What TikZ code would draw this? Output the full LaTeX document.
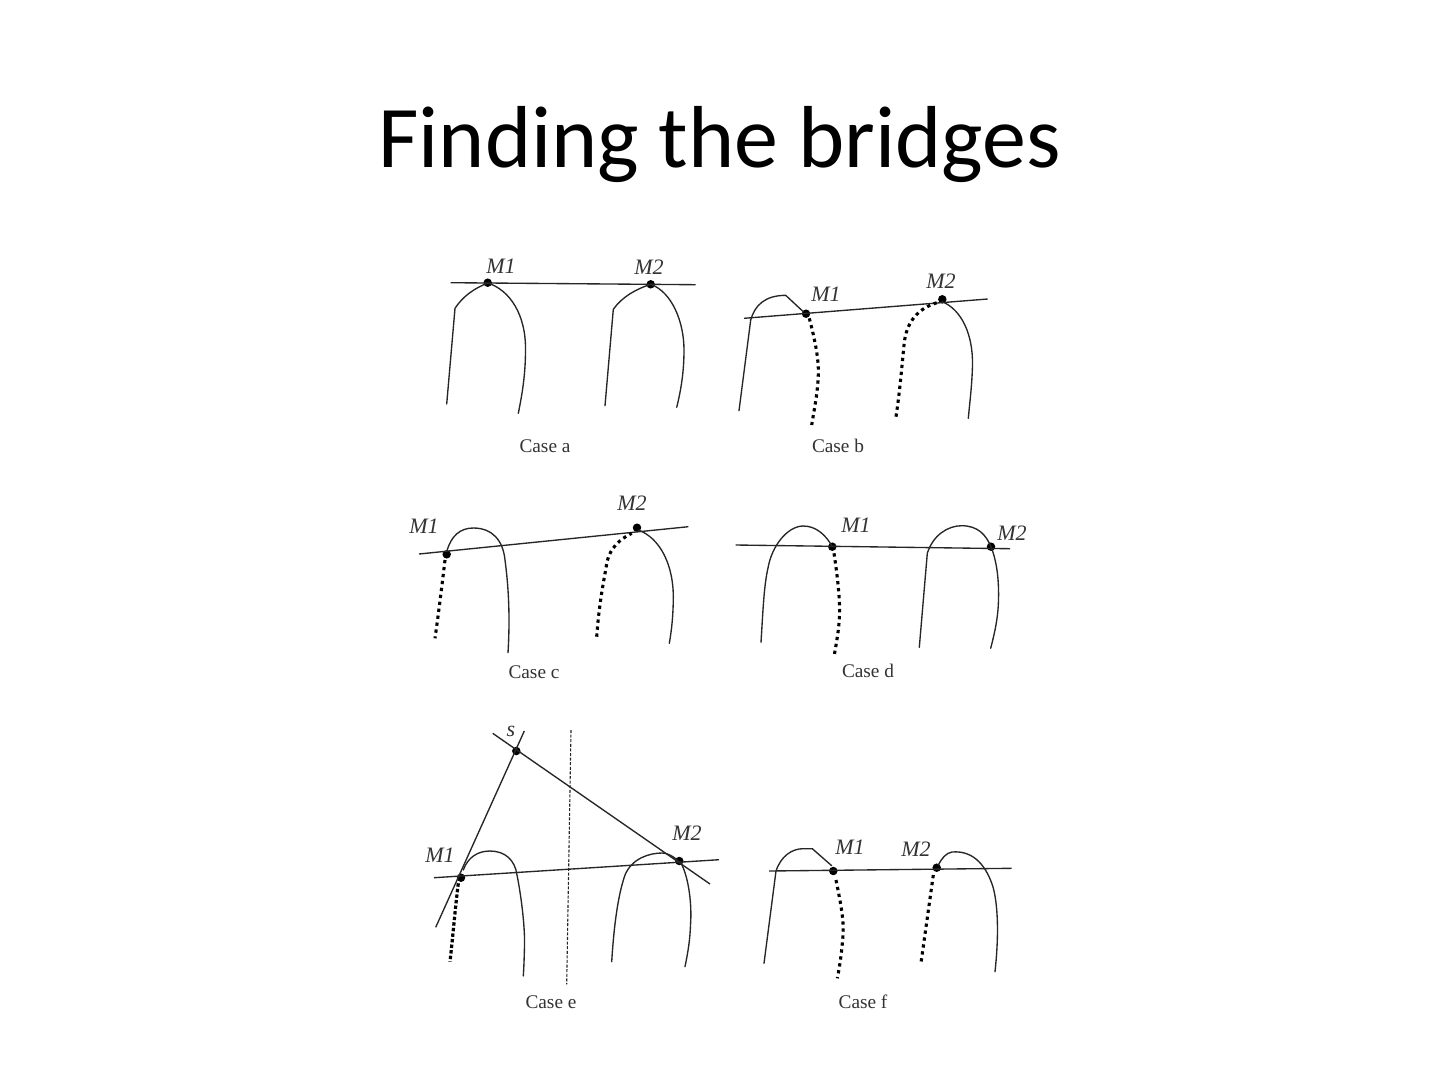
\documentclass[tikz,border=0pt]{standalone}
\usepackage{fontspec}
\setmainfont{Liberation Serif}
\newfontfamily\titlefont{Carlito}
\tikzset{
  hullcurve/.style={draw=black!85,line width=1.35pt,line cap=round,line join=round},
  thinline/.style={draw=black!85,line width=1.35pt},
  dotline/.style={draw=black,line width=3.1pt,dash pattern=on 3.3pt off 3.7pt},
  denseline/.style={draw=black,line width=3.2pt,dash pattern=on 3.4pt off 2.2pt},
  sepline/.style={draw=black!85,line width=1.1pt,dash pattern=on 3pt off 1.6pt},
  ptdot/.style={circle,fill=black,inner sep=0pt,minimum size=8.5pt},
  pointlabel/.style={inner sep=0pt,text=black!80,font=\fontsize{22}{24}\selectfont\itshape},
  caselabel/.style={inner sep=0pt,text=black!80,font=\fontsize{19.3}{22}\selectfont},
}
\begin{document}
\begin{tikzpicture}[x=1pt,y=-1pt]
\useasboundingbox[fill=white] (0,0) rectangle (1440,1080);
\node[inner sep=0pt,anchor=base,font=\titlefont\fontsize{88}{96}\selectfont] (title) at (719.5,167) {Finding the bridges};

% Case a
\node[ptdot] (a1) at (487.7,282.7) {};
\node[ptdot] (a2) at (650.7,284.3) {};
\coordinate (aL) at (450.7,282.7); \coordinate (aR) at (695.7,284.7);
\draw[thinline] (aL) -- (aR);
\draw[hullcurve] (446.7,404) -- (455,308.3) .. controls (463,296) and (475,288) .. (487.7,283) .. controls (510,290) and (526,315) .. (525.5,350) .. controls (525.5,375) and (522,395) .. (518.3,413.3);
\draw[hullcurve] (605,405.7) -- (613.3,309.3) .. controls (622,297) and (636,289) .. (650.7,284.3) .. controls (672,292) and (684,322) .. (684,350) .. controls (684,372) and (681,390) .. (676.7,407.3);
\node[pointlabel] (la1) at (501,266) {M1};
\node[pointlabel] (la2) at (649,267) {M2};
\node[caselabel] (ca) at (545,446) {Case a};

% Case b
\node[ptdot] (b1) at (806,313.7) {};
\node[ptdot] (b2) at (942.3,299.3) {};
\coordinate (bL) at (744,318.3); \coordinate (bR) at (987.7,299);
\draw[thinline] (bL) -- (bR);
\draw[hullcurve] (739,410.7) -- (750.7,320) .. controls (755,305) and (765,295.5) .. (785.7,295.3) -- (803.3,311.7);
\draw[dotline] (809.3,318.3) .. controls (815,340) and (819,360) .. (818.3,375) .. controls (817.5,395) and (814,410) .. (811.7,425);
\draw[dotline] (896,416.7) .. controls (900,390) and (902,365) .. (904,345) .. controls (906,322) and (918,308) .. (938.3,302.3);
\draw[hullcurve] (942.3,301.7) .. controls (962,310) and (973,335) .. (972.5,365) .. controls (972,385) and (970,400) .. (968.3,418.3);
\node[pointlabel] (lb1) at (826,294) {M1};
\node[pointlabel] (lb2) at (941,281) {M2};
\node[caselabel] (cb) at (838,446) {Case b};

% Case c
\node[ptdot] (c1) at (446.7,554.3) {};
\node[ptdot] (c2) at (637,527.7) {};
\coordinate (cL) at (419,554); \coordinate (cR) at (688.3,526.7);
\draw[thinline] (cL) -- (cR);
\draw[hullcurve] (446.7,551.7) .. controls (451,536) and (460,528) .. (473.3,528) .. controls (492,528) and (503,540) .. (505,560) .. controls (509,590) and (510,620) .. (508,652.7);
\draw[dotline] (445,560) .. controls (442,585) and (439,610) .. (435,638.3);
\draw[dotline] (596.7,636.7) .. controls (599,605) and (603,585) .. (607,562) .. controls (610,548) and (620,539) .. (631.7,533.3);
\draw[hullcurve] (638.3,530) .. controls (660,538) and (674,565) .. (673.3,600) .. controls (673,615) and (672,628) .. (669.3,643.3);
\node[pointlabel] (lc1) at (424,526) {M1};
\node[pointlabel] (lc2) at (632,503) {M2};
\node[caselabel] (cc) at (534,672) {Case c};

% Case d
\node[ptdot] (d1) at (832.3,546.7) {};
\node[ptdot] (d2) at (991,546.7) {};
\coordinate (dL) at (735.7,545); \coordinate (dR) at (1010,548.7);
\draw[thinline] (dL) -- (dR);
\draw[hullcurve] (761,642.3) .. controls (763,610) and (764,585) .. (768,568) .. controls (772,545) and (788,526) .. (803.3,526) .. controls (816,526) and (826,535) .. (832.3,546.7);
\draw[dotline] (834,553.3) .. controls (838,580) and (840,600) .. (839.5,615) .. controls (839,630) and (836,645) .. (834.3,655);
\draw[hullcurve] (919.3,647.3) -- (927.3,553.3) .. controls (933,535) and (948,525.7) .. (961.7,525.7) .. controls (978,525.7) and (986,535) .. (991,546.7) .. controls (997,562) and (999,580) .. (998.5,600) .. controls (998,620) and (994,635) .. (990.7,648.3);
\node[pointlabel] (ld1) at (856,525) {M1};
\node[pointlabel] (ld2) at (1012,533) {M2};
\node[caselabel] (cd) at (868,671) {Case d};

% Case e
\node[ptdot] (es) at (516.3,751) {};
\node[ptdot] (e1) at (461,877.7) {};
\node[ptdot] (e2) at (679.3,861) {};
\coordinate (eTa) at (524.3,731); \coordinate (eBa) at (435.7,927.3);
\coordinate (eTb) at (492.7,733.3); \coordinate (eBb) at (710,884);
\coordinate (eL) at (434,877.7); \coordinate (eR) at (719,859.7);
\coordinate (eDt) at (571,730); \coordinate (eDb) at (566.7,984.3);
\draw[thinline] (eTa) -- (eBa);
\draw[thinline] (eTb) -- (eBb);
\draw[thinline] (eL) -- (eR);
\draw[sepline] (eDt) -- (eDb);
\draw[hullcurve] (463.3,870) .. controls (468,857) and (478,851) .. (490,851) .. controls (505,851) and (515,860) .. (517,875) .. controls (522,900) and (525,930) .. (524.5,945) .. controls (524.3,955) and (524,965) .. (523.3,976);
\draw[denseline] (458.3,883.3) .. controls (455,910) and (453,935) .. (450,961.7);
\draw[hullcurve] (611.7,961.7) .. controls (614,925) and (618,895) .. (625,875) .. controls (632,858) and (650,853) .. (662,853) .. controls (670,853) and (678,860) .. (682,865) .. controls (689,880) and (692,905) .. (690.5,925) .. controls (690,940) and (688,952) .. (685,966.7);
\node[pointlabel] (les) at (511,731) {s};
\node[pointlabel] (le1) at (440,855) {M1};
\node[pointlabel] (le2) at (687,833) {M2};
\node[caselabel] (ce) at (551,1002) {Case e};

% Case f
\node[ptdot] (f1) at (833.3,871) {};
\node[ptdot] (f2) at (936.7,867.7) {};
\coordinate (fL) at (769,871); \coordinate (fR) at (1011.7,868.3);
\draw[thinline] (fL) -- (fR);
\draw[hullcurve] (764,963.3) -- (776,871) .. controls (781,856) and (792,848.7) .. (803,848.7) -- (812.3,848.7) -- (831.7,865.7);
\draw[dotline] (836,880) .. controls (841,905) and (844,920) .. (843,935) .. controls (842,950) and (840,965) .. (837.3,978.3);
\draw[dotline] (933.3,875) -- (920.7,965);
\draw[hullcurve] (938.3,865) .. controls (942,858) and (946,853) .. (952,852) .. controls (975,850) and (987,868) .. (993,887) .. controls (998,905) and (999,935) .. (995,971.7);
\node[pointlabel] (lf1) at (850,847) {M1};
\node[pointlabel] (lf2) at (916,849) {M2};
\node[caselabel] (cf) at (863,1002) {Case f};
\end{tikzpicture}
\end{document}
